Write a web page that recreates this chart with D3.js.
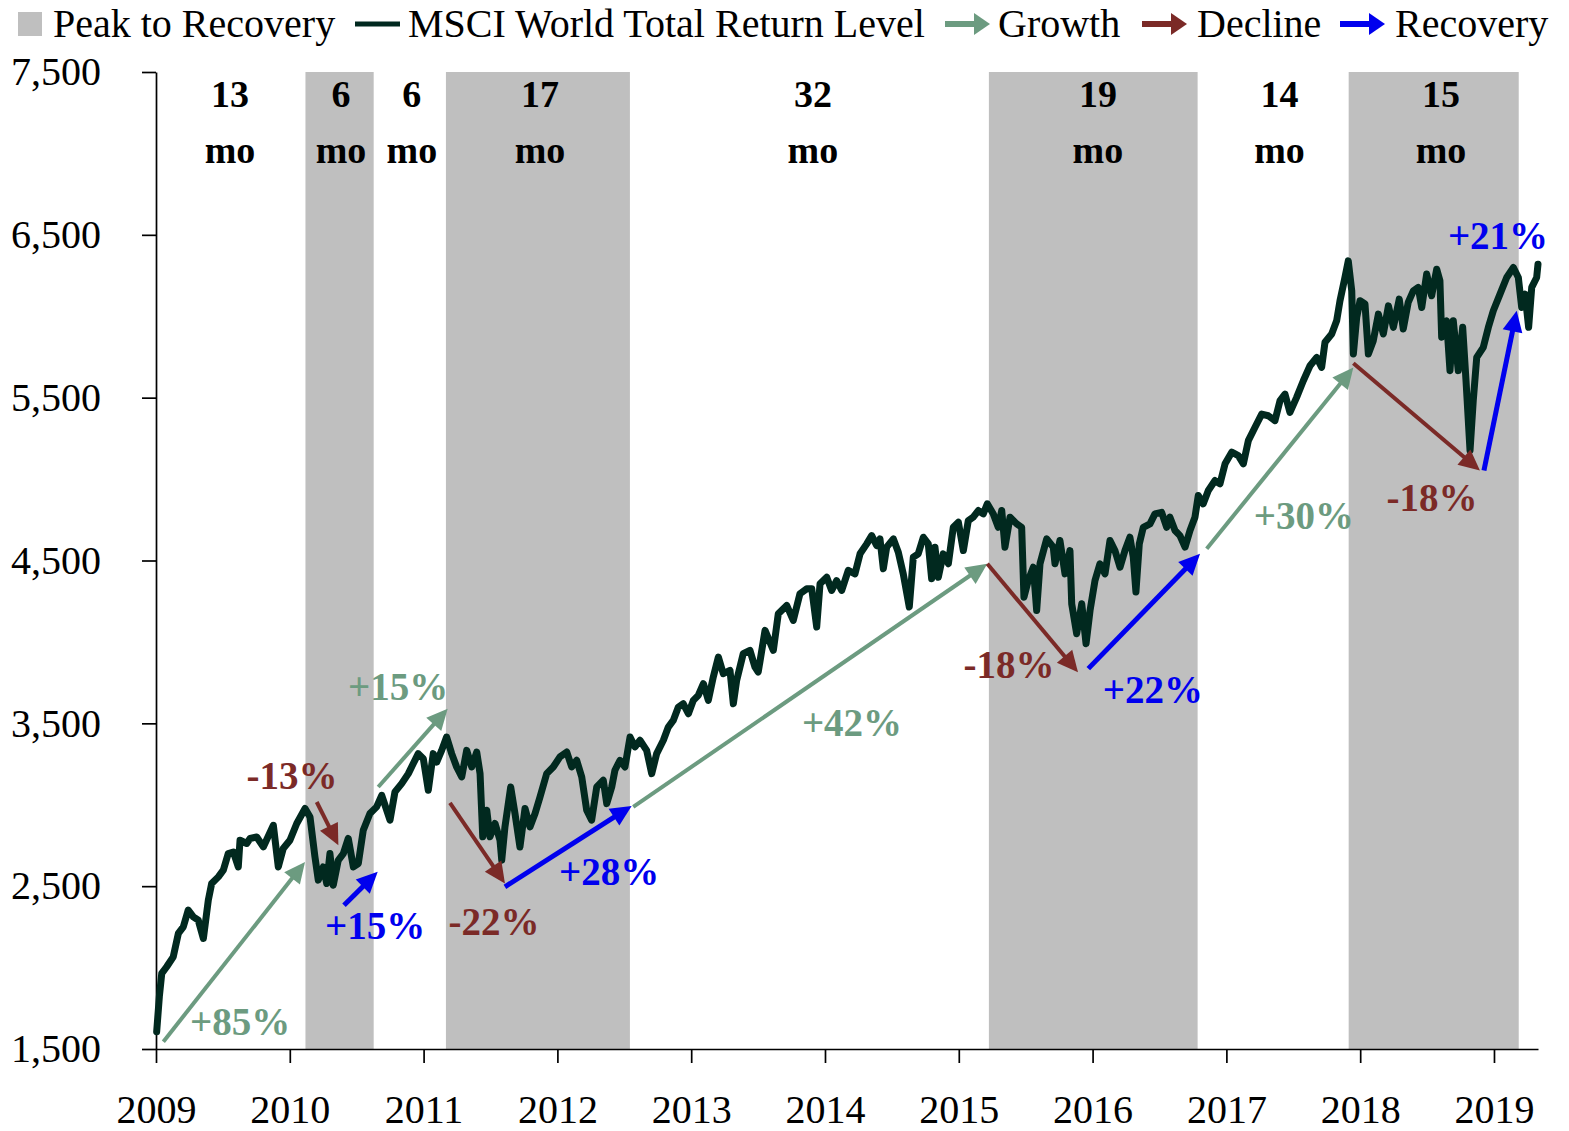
<!DOCTYPE html>
<html>
<head>
<meta charset="utf-8">
<script src="https://cdn.jsdelivr.net/npm/d3@7"></script>
<style>
  body { margin: 0; background: #fff; }
  svg { display: block; }
  text { font-family: "Liberation Serif", "Times New Roman", serif; fill: #000; }
</style>
</head>
<body>
<svg id="chart" width="1569" height="1131"></svg>
<script>
'use strict'

// MSCI World total return level, [decimal year, level]
const msciLevel = [
  [2009.005, 1606], [2009.025, 1821], [2009.043, 1964], [2009.080, 2005], [2009.129, 2066], [2009.167, 2210],
  [2009.204, 2250], [2009.241, 2353], [2009.279, 2312], [2009.316, 2291], [2009.354, 2179], [2009.391, 2414],
  [2009.416, 2516], [2009.466, 2557], [2009.503, 2598], [2009.540, 2700], [2009.578, 2710], [2009.615, 2618],
  [2009.628, 2782], [2009.678, 2762], [2009.703, 2793], [2009.753, 2802], [2009.802, 2741], [2009.877, 2874],
  [2009.914, 2618], [2009.951, 2731], [2010.001, 2782], [2010.052, 2885], [2010.114, 2977], [2010.151, 2925],
  [2010.188, 2680], [2010.213, 2537], [2010.250, 2618], [2010.276, 2516], [2010.300, 2700], [2010.325, 2506],
  [2010.362, 2659], [2010.400, 2700], [2010.437, 2793], [2010.475, 2618], [2010.512, 2639], [2010.549, 2843],
  [2010.599, 2946], [2010.649, 2987], [2010.687, 3058], [2010.699, 3028], [2010.749, 2905], [2010.786, 3079],
  [2010.836, 3130], [2010.886, 3191], [2010.923, 3253], [2010.960, 3314], [2010.998, 3283], [2011.035, 3089],
  [2011.072, 3314], [2011.098, 3262], [2011.135, 3334], [2011.172, 3416], [2011.210, 3314], [2011.247, 3232],
  [2011.285, 3171], [2011.322, 3334], [2011.360, 3232], [2011.397, 3324], [2011.422, 3191], [2011.442, 2803],
  [2011.472, 2966], [2011.496, 2803], [2011.534, 2885], [2011.571, 2782], [2011.584, 2659], [2011.608, 2864],
  [2011.651, 3109], [2011.683, 2946], [2011.720, 2741], [2011.758, 2977], [2011.795, 2864], [2011.833, 2946],
  [2011.870, 3048], [2011.920, 3191], [2011.969, 3232], [2012.019, 3294], [2012.070, 3324], [2012.107, 3232],
  [2012.144, 3273], [2012.182, 3171], [2012.219, 2966], [2012.256, 2905], [2012.294, 3109], [2012.343, 3150],
  [2012.369, 3007], [2012.406, 3109], [2012.430, 3212], [2012.468, 3273], [2012.505, 3232], [2012.543, 3416],
  [2012.580, 3355], [2012.617, 3396], [2012.667, 3334], [2012.705, 3191], [2012.742, 3314], [2012.792, 3396],
  [2012.829, 3477], [2012.866, 3518], [2012.904, 3600], [2012.941, 3620], [2012.979, 3559], [2013.016, 3641],
  [2013.053, 3672], [2013.091, 3744], [2013.128, 3641], [2013.165, 3784], [2013.203, 3907], [2013.240, 3805],
  [2013.290, 3825], [2013.315, 3620], [2013.340, 3764], [2013.389, 3928], [2013.439, 3948], [2013.477, 3845],
  [2013.501, 3815], [2013.552, 4071], [2013.614, 3948], [2013.651, 4173], [2013.714, 4224], [2013.763, 4132],
  [2013.813, 4296], [2013.863, 4326], [2013.901, 4326], [2013.938, 4091], [2013.963, 4357], [2014.013, 4397],
  [2014.050, 4316], [2014.087, 4377], [2014.125, 4316], [2014.174, 4439], [2014.224, 4418], [2014.262, 4541],
  [2014.312, 4602], [2014.349, 4653], [2014.386, 4592], [2014.411, 4633], [2014.436, 4449], [2014.461, 4582],
  [2014.511, 4633], [2014.548, 4551], [2014.585, 4418], [2014.630, 4214], [2014.660, 4520], [2014.697, 4541],
  [2014.735, 4643], [2014.772, 4602], [2014.797, 4388], [2014.822, 4582], [2014.847, 4397], [2014.884, 4541],
  [2014.922, 4480], [2014.959, 4704], [2014.997, 4735], [2015.034, 4561], [2015.071, 4745], [2015.108, 4766],
  [2015.146, 4807], [2015.183, 4786], [2015.213, 4848], [2015.258, 4786], [2015.295, 4704], [2015.321, 4807],
  [2015.345, 4582], [2015.383, 4766], [2015.433, 4725], [2015.470, 4704], [2015.487, 4275], [2015.519, 4377],
  [2015.557, 4459], [2015.582, 4193], [2015.607, 4480], [2015.657, 4633], [2015.706, 4582], [2015.719, 4480],
  [2015.756, 4623], [2015.794, 4418], [2015.831, 4561], [2015.844, 4234], [2015.881, 4050], [2015.919, 4234],
  [2015.951, 3989], [2015.981, 4193], [2016.018, 4377], [2016.055, 4480], [2016.093, 4418], [2016.130, 4623],
  [2016.167, 4561], [2016.205, 4459], [2016.242, 4561], [2016.279, 4643], [2016.304, 4520], [2016.324, 4306],
  [2016.349, 4602], [2016.379, 4704], [2016.429, 4725], [2016.466, 4786], [2016.516, 4796], [2016.554, 4704],
  [2016.578, 4766], [2016.616, 4684], [2016.653, 4653], [2016.691, 4582], [2016.728, 4684], [2016.765, 4766],
  [2016.790, 4899], [2016.827, 4848], [2016.865, 4930], [2016.915, 4991], [2016.952, 4971], [2016.990, 5094],
  [2017.040, 5165], [2017.089, 5144], [2017.127, 5094], [2017.164, 5236], [2017.214, 5318], [2017.264, 5399],
  [2017.313, 5389], [2017.363, 5359], [2017.401, 5482], [2017.438, 5522], [2017.475, 5410], [2017.525, 5502],
  [2017.575, 5604], [2017.625, 5696], [2017.675, 5747], [2017.712, 5686], [2017.737, 5840], [2017.787, 5891],
  [2017.824, 5972], [2017.849, 6095], [2017.886, 6238], [2017.911, 6340], [2017.937, 6156], [2017.949, 5768],
  [2017.974, 5993], [2017.999, 6095], [2018.036, 6075], [2018.061, 5768], [2018.098, 5850], [2018.136, 6013],
  [2018.173, 5891], [2018.211, 6064], [2018.248, 5932], [2018.292, 6105], [2018.322, 5922], [2018.359, 6085],
  [2018.397, 6156], [2018.434, 6177], [2018.460, 6054], [2018.497, 6259], [2018.534, 6126], [2018.572, 6289],
  [2018.596, 6218], [2018.609, 5871], [2018.646, 5972], [2018.671, 5666], [2018.696, 5972], [2018.733, 5666],
  [2018.766, 5932], [2018.791, 5604], [2018.821, 5175], [2018.845, 5481], [2018.871, 5747], [2018.920, 5809],
  [2018.958, 5932], [2018.995, 6034], [2019.045, 6136], [2019.095, 6238], [2019.145, 6299], [2019.182, 6238],
  [2019.207, 6054], [2019.232, 6136], [2019.259, 5932], [2019.282, 6177], [2019.319, 6238], [2019.329, 6320]
]

// peak-to-recovery windows (decimal years)
const shadeStart = [2010.117, 2011.167, 2015.225, 2017.914]
const shadeEnd = [2010.627, 2012.542, 2016.785, 2019.185]

// phase lengths written across the top
const phaseMonths = [13, 6, 6, 17, 32, 19, 14, 15]
const phaseCenter = [2009.553, 2010.383, 2010.912, 2011.870, 2013.910, 2016.040, 2017.397, 2018.604]

// arrows: [fromYear, fromLevel, toYear, toLevel]
const growthArrows = [[2009.055, 1545, 2010.114, 2649], [2010.661, 3109, 2011.180, 3590],
  [2012.567, 2987, 2015.213, 4480], [2016.853, 4572, 2017.949, 5686]]
const growthText = ['+85%', '+15%', '+42%', '+30%']
const growthTextAt = [[2009.628, 1586], [2010.809, 3641], [2014.202, 3422], [2017.580, 4696]]

const declineArrows = [[2010.201, 3017, 2010.363, 2752], [2011.197, 3011, 2011.608, 2517],
  [2015.213, 4480, 2015.891, 3813], [2017.949, 5711, 2018.895, 5052]]
const declineText = ['-13%', '-22%', '-18%', '-18%']
const declineTextAt = [[2010.016, 3095], [2011.526, 2199], [2015.375, 3776], [2018.537, 4807]]

const recoveryArrows = [[2010.405, 2383, 2010.657, 2588], [2011.608, 2496, 2012.555, 2993],
  [2015.968, 3836, 2016.803, 4541], [2018.925, 5052, 2019.170, 6034]]
const recoveryText = ['+15%', '+28%', '+22%', '+21%']
const recoveryTextAt = [[2010.637, 2175], [2012.386, 2506], [2016.451, 3623], [2019.030, 6414]]

const yTicks = [1500, 2500, 3500, 4500, 5500, 6500, 7500]
const xTicks = [2009, 2010, 2011, 2012, 2013, 2014, 2015, 2016, 2017, 2018, 2019]

const legendNames = ['Peak to Recovery', 'MSCI World Total Return Level', 'Growth', 'Decline', 'Recovery']

const colors = {
  shade: '#bfbfbf',
  line: '#01291f',
  growth: '#6c9b80',
  decline: '#7b2a27',
  recovery: '#0000ee'
}

const svg = d3.select('#chart')

const x = d3.scaleLinear().domain([2009, 2019.329]).range([156, 1538])
const y = d3.scaleLinear().domain([1500, 7500]).range([1049, 72])

// shaded windows
svg.append('g')
  .selectAll('rect')
  .data(shadeStart.map((s, i) => [s, shadeEnd[i]]))
  .enter()
  .append('rect')
  .attr('x', d => x(d[0]))
  .attr('width', d => x(d[1]) - x(d[0]))
  .attr('y', y(7500))
  .attr('height', y(1500) - y(7500))
  .attr('fill', colors.shade)

// axes
const yAxis = svg.append('g')
  .attr('transform', `translate(${x(2009)},0)`)
  .call(d3.axisLeft(y).tickValues(yTicks).tickSize(14).tickSizeOuter(0).tickPadding(41)
    .tickFormat(d3.format(',')))
yAxis.selectAll('text').attr('font-size', 40).attr('font-family', null).attr('fill', '#000')

const xAxis = svg.append('g')
  .attr('transform', `translate(0,${y(1500)})`)
  .call(d3.axisBottom(x).tickValues(xTicks).tickSize(14).tickSizeOuter(0).tickPadding(32)
    .tickFormat(d3.format('d')))
xAxis.selectAll('text').attr('font-size', 40).attr('font-family', null).attr('fill', '#000')

svg.selectAll('.domain, .tick line').attr('stroke', '#000').attr('stroke-width', 1.7)

// index line
const line = d3.line().x(d => x(d[0])).y(d => y(d[1]))
svg.append('path')
  .datum(msciLevel)
  .attr('d', line)
  .attr('fill', 'none')
  .attr('stroke', colors.line)
  .attr('stroke-width', 7)
  .attr('stroke-linejoin', 'round')
  .attr('stroke-linecap', 'round')

// arrow in pixel space: shaft plus filled head
function drawArrow (g, p0, p1, color, width, headLen, headHalf) {
  const dx = p1[0] - p0[0]
  const dy = p1[1] - p0[1]
  const len = Math.hypot(dx, dy)
  const ux = dx / len
  const uy = dy / len
  const bx = p1[0] - ux * headLen
  const by = p1[1] - uy * headLen
  g.append('line')
    .attr('x1', p0[0]).attr('y1', p0[1])
    .attr('x2', bx + ux * 2).attr('y2', by + uy * 2)
    .attr('stroke', color)
    .attr('stroke-width', width)
  g.append('path')
    .attr('d', `M${p1[0]},${p1[1]}L${bx - uy * headHalf},${by + ux * headHalf}L${bx + uy * headHalf},${by - ux * headHalf}Z`)
    .attr('fill', color)
}

function drawMoves (arrows, texts, textAt, color, width) {
  const g = svg.append('g')
  arrows.forEach(a => {
    drawArrow(g, [x(a[0]), y(a[1])], [x(a[2]), y(a[3])], color, width, 21, 10)
  })
  g.selectAll('text')
    .data(texts)
    .enter()
    .append('text')
    .attr('x', (d, i) => x(textAt[i][0]))
    .attr('y', (d, i) => y(textAt[i][1]))
    .attr('text-anchor', 'middle')
    .attr('font-size', 39)
    .attr('font-weight', 'bold')
    .style('fill', color)
    .text(d => d)
}

drawMoves(growthArrows, growthText, growthTextAt, colors.growth, 4)
drawMoves(declineArrows, declineText, declineTextAt, colors.decline, 4)
drawMoves(recoveryArrows, recoveryText, recoveryTextAt, colors.recovery, 5)

// phase lengths
const phases = svg.append('g')
  .selectAll('g')
  .data(phaseMonths)
  .enter()
  .append('g')
  .attr('transform', (d, i) => `translate(${x(phaseCenter[i])},0)`)
phases.append('text').attr('y', 107).text(d => d)
phases.append('text').attr('y', 163).text('mo')
phases.selectAll('text')
  .attr('text-anchor', 'middle')
  .attr('font-size', 38)
  .attr('font-weight', 'bold')

// legend
const legend = svg.append('g').attr('font-size', 40)
const legendY = 24
legend.append('rect').attr('x', 18).attr('y', 12).attr('width', 24).attr('height', 24).attr('fill', colors.shade)
legend.append('line')
  .attr('x1', 355).attr('x2', 400).attr('y1', legendY).attr('y2', legendY)
  .attr('stroke', colors.line).attr('stroke-width', 5)
drawArrow(legend, [945, legendY], [990, legendY], colors.growth, 6, 16, 11)
drawArrow(legend, [1142, legendY], [1187, legendY], colors.decline, 6, 16, 11)
drawArrow(legend, [1340, legendY], [1385, legendY], colors.recovery, 6, 16, 11)

const legendTextX = [53, 408, 998, 1197, 1395]
legend.selectAll('text')
  .data(legendNames)
  .enter()
  .append('text')
  .attr('x', (d, i) => legendTextX[i])
  .attr('y', 37)
  .text(d => d)
</script>
</body>
</html>
